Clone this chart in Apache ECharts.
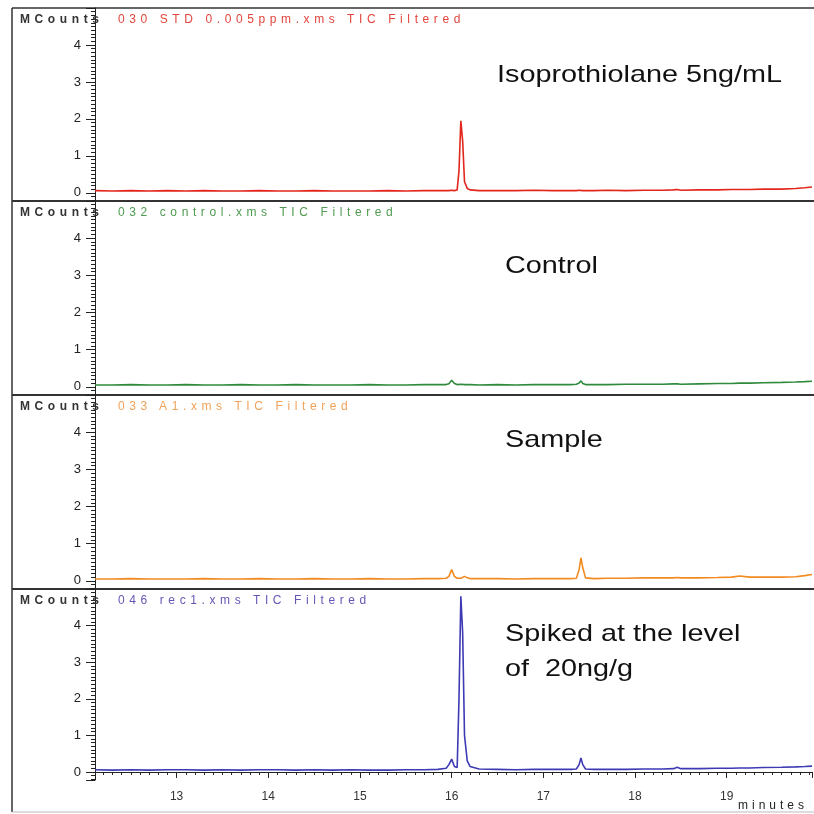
<!DOCTYPE html>
<html>
<head>
<meta charset="utf-8">
<script src="https://cdn.jsdelivr.net/npm/echarts@6/dist/echarts.min.js"></script>
<style>
  html, body { margin: 0; padding: 0; background: #fff; }
  #wrap { position: relative; width: 814px; height: 814px; }
  #chart-container { width: 814px; height: 814px; }
  .hdr { position: absolute; font-family: "Liberation Sans", Arial, sans-serif; font-size: 12px;
         letter-spacing: 4.6px; white-space: nowrap; line-height: 12px; }
  .mc { color: #333; font-weight: bold; left: 20px; }
</style>
</head>
<body>
<div id="wrap">
  <div id="chart-container"></div>
</div>
<script>
// retention time (minutes), shared by all four traces
var times = [12.11, 12.3, 12.5, 12.7, 12.9, 13.1, 13.3, 13.5, 13.7, 13.9,
  14.1, 14.3, 14.5, 14.7, 14.9, 15.1, 15.3, 15.5, 15.7, 15.85,
  15.94, 15.97, 16.0, 16.03, 16.06, 16.08, 16.10, 16.12, 16.14, 16.17,
  16.2, 16.3, 16.5, 16.7, 16.9, 17.1, 17.3, 17.36, 17.39, 17.41,
  17.43, 17.46, 17.55, 17.7, 17.9, 18.1, 18.3, 18.42, 18.46, 18.5,
  18.7, 18.9, 19.05, 19.14, 19.25, 19.4, 19.6, 19.75, 19.85, 19.93];

// MCounts
var stdTrace = [0.06, 0.05, 0.06, 0.05, 0.06, 0.05, 0.06, 0.05, 0.05, 0.06,
  0.05, 0.05, 0.06, 0.05, 0.05, 0.05, 0.06, 0.05, 0.06, 0.06,
  0.06, 0.06, 0.07, 0.06, 0.08, 0.6, 1.95, 1.4, 0.3, 0.12,
  0.08, 0.06, 0.06, 0.06, 0.07, 0.06, 0.06, 0.06, 0.07, 0.07,
  0.06, 0.06, 0.06, 0.07, 0.06, 0.07, 0.07, 0.08, 0.09, 0.07,
  0.08, 0.08, 0.09, 0.09, 0.09, 0.1, 0.1, 0.12, 0.14, 0.16];

var controlTrace = [0.05, 0.05, 0.06, 0.05, 0.05, 0.06, 0.05, 0.05, 0.06, 0.05,
  0.05, 0.06, 0.05, 0.05, 0.05, 0.06, 0.05, 0.05, 0.06, 0.06,
  0.06, 0.08, 0.18, 0.09, 0.06, 0.06, 0.07, 0.06, 0.06, 0.06,
  0.06, 0.05, 0.06, 0.05, 0.06, 0.06, 0.06, 0.07, 0.1, 0.16,
  0.09, 0.06, 0.06, 0.06, 0.07, 0.07, 0.07, 0.08, 0.08, 0.07,
  0.08, 0.09, 0.09, 0.1, 0.1, 0.11, 0.12, 0.13, 0.14, 0.15];

var sampleTrace = [0.05, 0.05, 0.06, 0.05, 0.05, 0.05, 0.06, 0.05, 0.05, 0.06,
  0.05, 0.05, 0.06, 0.05, 0.05, 0.06, 0.05, 0.05, 0.06, 0.06,
  0.07, 0.12, 0.3, 0.12, 0.07, 0.07, 0.07, 0.08, 0.12, 0.08,
  0.06, 0.06, 0.06, 0.05, 0.06, 0.06, 0.06, 0.07, 0.3, 0.62,
  0.35, 0.08, 0.06, 0.07, 0.07, 0.08, 0.08, 0.08, 0.09, 0.08,
  0.08, 0.09, 0.1, 0.13, 0.1, 0.1, 0.1, 0.11, 0.14, 0.17];

var spikedTrace = [0.06, 0.05, 0.06, 0.05, 0.06, 0.06, 0.05, 0.06, 0.05, 0.06,
  0.06, 0.05, 0.06, 0.05, 0.06, 0.05, 0.05, 0.06, 0.06, 0.07,
  0.1, 0.2, 0.35, 0.15, 0.12, 2.0, 4.8, 3.8, 1.0, 0.3,
  0.15, 0.08, 0.07, 0.06, 0.07, 0.07, 0.07, 0.08, 0.2, 0.38,
  0.2, 0.08, 0.07, 0.07, 0.07, 0.08, 0.08, 0.09, 0.13, 0.09,
  0.09, 0.1, 0.1, 0.11, 0.11, 0.12, 0.13, 0.14, 0.15, 0.16];

var traces = [stdTrace, controlTrace, sampleTrace, spikedTrace];
var traceNames = ["030 STD 0.005ppm.xms TIC Filtered", "032 control.xms TIC Filtered",
  "033 A1.xms TIC Filtered", "046 rec1.xms TIC Filtered"];
var traceColors = ["#e3261c", "#2f8a3c", "#f28a22", "#3d3ab4"];
var labelColors = ["#e2453c", "#4f9a50", "#f0a25a", "#6656b4"];
var panelNotes = [["Isoprothiolane 5ng/mL"], ["Control"], ["Sample"], ["Spiked at the level", "of  20ng/g"]];

var panelTop = [8, 201, 395, 589];
var panelHeight = [193, 194, 194, 191];
var noteMid = [75, 266, 440, 634];

var wrap = document.getElementById("wrap");
for (var h = 0; h < 4; h++) {
  var mc = document.createElement("div");
  mc.className = "hdr mc";
  mc.style.top = (panelTop[h] + 5) + "px";
  mc.textContent = "MCounts";
  wrap.appendChild(mc);
  var tn = document.createElement("div");
  tn.className = "hdr";
  tn.style.left = "118px";
  tn.style.top = (panelTop[h] + 5) + "px";
  tn.style.color = labelColors[h];
  tn.textContent = traceNames[h];
  wrap.appendChild(tn);
}
var mins = document.createElement("div");
mins.className = "hdr";
mins.style.left = "738px";
mins.style.top = "799px";
mins.style.letterSpacing = "4px";
mins.style.color = "#222";
mins.textContent = "minutes";
wrap.appendChild(mins);

var grids = [], xAxes = [], yAxes = [], series = [], graphics = [];
for (var i = 0; i < 4; i++) {
  var last = i === 3;
  grids.push({ left: 95, right: 2, top: panelTop[i], height: panelHeight[i] });
  xAxes.push({
    type: "value", gridIndex: i, min: 12.11, max: 19.93, splitNumber: 8,
    show: last,
    axisLine: { show: true, lineStyle: { color: "#222", width: 1 } },
    axisTick: { show: true, length: 6, lineStyle: { color: "#222" } },
    minorTick: { show: true, splitNumber: 10, length: 3, lineStyle: { color: "#222" } },
    axisLabel: { show: last, showMinLabel: false, showMaxLabel: false, margin: 11,
      color: "#333", fontSize: 12, fontFamily: "Liberation Sans" },
    splitLine: { show: false }
  });
  yAxes.push({
    type: "value", gridIndex: i, min: -0.22, max: 5.0, splitNumber: 5,
    axisLine: { show: true, lineStyle: { color: "#222", width: 1 } },
    axisTick: { show: true, length: 9, lineStyle: { color: "#222" } },
    minorTick: { show: true, splitNumber: 10, length: 4, lineStyle: { color: "#222" } },
    axisLabel: { showMinLabel: false, showMaxLabel: false, margin: 14,
      color: "#222", fontSize: 13, fontFamily: "Liberation Sans" },
    splitLine: { show: false }
  });
  var pts = [];
  for (var k = 0; k < times.length; k++) pts.push([times[k], traces[i][k]]);
  series.push({
    type: "line", xAxisIndex: i, yAxisIndex: i, data: pts, symbol: "none",
    lineStyle: { color: traceColors[i], width: 1.6 }
  });
  for (var n = 0; n < panelNotes[i].length; n++) {
    graphics.push({
      type: "text", x: i === 0 ? 497 : 505, y: noteMid[i] + n * 35, scaleX: 1.2,
      style: { text: panelNotes[i][n], fill: "#111", font: "24px 'Liberation Sans'",
        verticalAlign: "middle" }
    });
  }
}

// frame and panel separators
graphics.push({ type: "line", shape: { x1: 12, y1: 8, x2: 12, y2: 812 }, style: { stroke: "#333", lineWidth: 1.5 } });
graphics.push({ type: "line", shape: { x1: 12, y1: 8, x2: 814, y2: 8 }, style: { stroke: "#333", lineWidth: 1.5 } });
[201, 395, 589].forEach(function (y) {
  graphics.push({ type: "line", shape: { x1: 12, y1: y, x2: 814, y2: y }, style: { stroke: "#333", lineWidth: 2 } });
});
graphics.push({ type: "line", shape: { x1: 12, y1: 812, x2: 814, y2: 812 }, style: { stroke: "#bbb", lineWidth: 1 } });

var option = {
  animation: false,
  backgroundColor: "#fff",
  grid: grids,
  xAxis: xAxes,
  yAxis: yAxes,
  series: series,
  graphic: graphics
};

var myChart = echarts.init(document.getElementById("chart-container"));
myChart.setOption(option);
</script>
</body>
</html>
